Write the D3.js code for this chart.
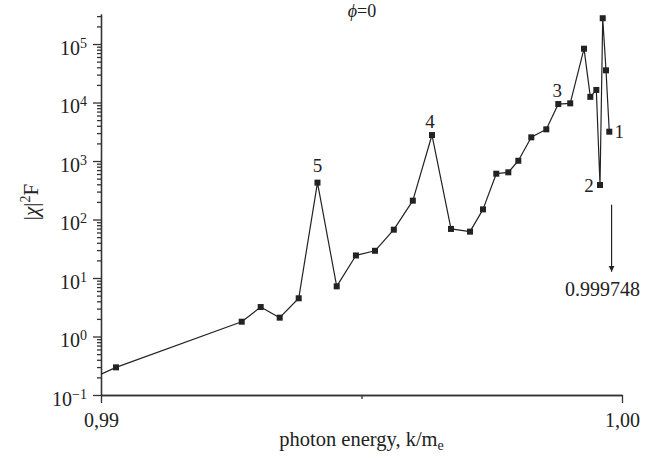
<!DOCTYPE html>
<html>
<head>
<meta charset="utf-8">
<script src="https://cdn.jsdelivr.net/npm/d3@7"></script>
<style>
  body { margin: 0; background: #fff; }
  svg text { font-family: "Liberation Serif", "Times New Roman", "DejaVu Serif", serif; fill: #222; }
</style>
</head>
<body>
<div id="chart"></div>
<script>
var svgWidth = 658;
var svgHeight = 466;

// photon energy k/m_e and |chi|^2 F
var energy = [0.990288, 0.992701, 0.993065, 0.99343, 0.993795, 0.994155, 0.994524, 0.994893,
  0.995259, 0.99562, 0.995985, 0.996353, 0.996718, 0.997083, 0.997332, 0.997587, 0.997818,
  0.998010, 0.998259, 0.998547, 0.998777, 0.999006, 0.999271, 0.999392, 0.999507, 0.999578,
  0.999630, 0.999693, 0.999756];
var chi2F = [0.297, 1.79, 3.19, 2.10, 4.50, 427, 7.2, 24.3, 29.2, 67, 210, 2780, 69, 62, 149,
  607, 641, 1010, 2540, 3480, 9420, 9680, 83200, 12500, 16400, 389, 276000, 35500, 3170];

// the line enters the frame at the left axis at this value
var entryPoint = [0.99, 0.226];

// numbered resonances: label text and index of the point
var peakNames = ["1", "2", "3", "4", "5"];
var peakIndex = [28, 25, 20, 11, 5];

// x and y ticks
var xTicks = [0.99, 1.00];
var xMinorTicks = [0.995];
var yPowers = [-1, 0, 1, 2, 3, 4, 5];

// arrow annotation
var arrowEnergy = 0.9998;
var arrowRange = [179, 12.8];
var arrowText = "0.999748";

var margin = { top: 14, right: 36, bottom: 71, left: 101 };
var width = svgWidth - margin.left - margin.right;
var height = svgHeight - margin.top - margin.bottom;

var svg = d3.select("#chart")
  .append("svg")
  .attr("width", svgWidth)
  .attr("height", svgHeight);

var chartGroup = svg.append("g")
  .attr("transform", `translate(${margin.left}, ${margin.top})`);

var xScale = d3.scaleLinear()
  .domain([0.99, 1.00])
  .range([0, width]);

var yScale = d3.scaleLog()
  .domain([0.1, 3.26e5])
  .range([height, 0]);

svg.append("defs").append("clipPath")
  .attr("id", "plotClip")
  .append("rect")
  .attr("x", 0).attr("y", 0)
  .attr("width", width).attr("height", height);

// minor y ticks 2..9 per decade
var yMinor = [];
for (var p = -1; p <= 5; p++) {
  for (var m = 2; m <= 9; m++) {
    var v = m * Math.pow(10, p);
    if (v <= yScale.domain()[1]) yMinor.push(v);
  }
}

var axisColor = "#333";

var yMinorAxis = chartGroup.append("g")
  .call(d3.axisLeft(yScale).tickValues(yMinor).tickSize(4).tickSizeOuter(0).tickFormat(""));

var yAxis = chartGroup.append("g")
  .call(d3.axisLeft(yScale)
    .tickValues(yPowers.map(d => Math.pow(10, d)))
    .tickSize(8).tickSizeOuter(0).tickPadding(6)
    .tickFormat(""));

// 10^n labels with superscript
yAxis.selectAll(".tick text").each(function(d) {
  var t = d3.select(this)
    .attr("dy", null)
    .attr("y", 10)
    .style("font-size", "20px");
  var pw = Math.round(Math.log10(d));
  t.append("tspan").text("10");
  t.append("tspan")
    .attr("dy", -7)
    .style("font-size", "14px")
    .text(pw < 0 ? "\u2212" + (-pw) : pw);
});

var xMinorAxis = chartGroup.append("g")
  .attr("transform", `translate(0, ${height})`)
  .call(d3.axisBottom(xScale).tickValues(xMinorTicks).tickSize(4).tickSizeOuter(0).tickFormat(""));

var xAxis = chartGroup.append("g")
  .attr("transform", `translate(0, ${height})`)
  .call(d3.axisBottom(xScale)
    .tickValues(xTicks)
    .tickSize(8).tickSizeOuter(0).tickPadding(10)
    .tickFormat(d => d3.format(".2f")(d).replace(".", ",")));

xAxis.selectAll(".tick text").style("font-size", "20px");

[yMinorAxis, yAxis, xMinorAxis, xAxis].forEach(function(g) {
  g.selectAll("path, line").attr("stroke", axisColor).attr("stroke-width", 1.3);
});

// data line
var points = energy.map((e, i) => [e, chi2F[i]]);
var lineData = [entryPoint].concat(points);

var line = d3.line()
  .x(d => xScale(d[0]))
  .y(d => yScale(d[1]));

chartGroup.append("path")
  .datum(lineData)
  .attr("clip-path", "url(#plotClip)")
  .attr("fill", "none")
  .attr("stroke", "#222")
  .attr("stroke-width", 1.2)
  .attr("stroke-linejoin", "round")
  .attr("d", line);

var sq = 6;
chartGroup.selectAll("rect.marker")
  .data(points)
  .enter()
  .append("rect")
  .attr("class", "marker")
  .attr("x", d => xScale(d[0]) - sq / 2)
  .attr("y", d => yScale(d[1]) - sq / 2)
  .attr("width", sq)
  .attr("height", sq)
  .attr("fill", "#222");

// peak numbers
var labelOffset = { "1": [10, 6], "2": [-11, 6.5], "3": [-1, -7.5], "4": [-2, -7], "5": [0, -10.5] };
chartGroup.selectAll("text.peak")
  .data(peakNames)
  .enter()
  .append("text")
  .attr("class", "peak")
  .attr("text-anchor", "middle")
  .style("font-size", "19px")
  .attr("x", (d, i) => xScale(energy[peakIndex[i]]) + labelOffset[d][0])
  .attr("y", (d, i) => yScale(chi2F[peakIndex[i]]) + labelOffset[d][1])
  .text(d => d);

// arrow annotation
svg.append("defs").append("marker")
  .attr("id", "arrowHead")
  .attr("viewBox", "0 0 10 10")
  .attr("refX", 10).attr("refY", 5)
  .attr("markerWidth", 6).attr("markerHeight", 11)
  .attr("markerUnits", "userSpaceOnUse")
  .attr("orient", "auto")
  .append("path")
  .attr("d", "M0,0 L10,5 L0,10 Z")
  .attr("fill", "#222");

chartGroup.append("line")
  .attr("x1", xScale(arrowEnergy))
  .attr("x2", xScale(arrowEnergy))
  .attr("y1", yScale(arrowRange[0]))
  .attr("y2", yScale(arrowRange[1]))
  .attr("stroke", "#222")
  .attr("stroke-width", 1.2)
  .attr("marker-end", "url(#arrowHead)");

chartGroup.append("text")
  .attr("text-anchor", "middle")
  .attr("x", xScale(arrowEnergy) - 9)
  .attr("y", yScale(arrowRange[1]) + 24)
  .style("font-size", "20px")
  .text(arrowText);

// title phi=0
var title = svg.append("text")
  .attr("text-anchor", "middle")
  .attr("x", 362)
  .attr("y", 17)
  .style("font-size", "18px");
title.append("tspan").style("font-style", "italic").text("\u03d5");
title.append("tspan").text("=0");

// x axis title
var xTitle = svg.append("text")
  .attr("text-anchor", "middle")
  .attr("x", margin.left + width / 2)
  .attr("y", 446)
  .style("font-size", "20.5px");
xTitle.append("tspan").text("photon energy, k/m");
xTitle.append("tspan").attr("dy", 4).style("font-size", "14px").text("e");

// y axis title
var yTitle = svg.append("text")
  .attr("text-anchor", "middle")
  .attr("transform", "translate(38, 202) rotate(-90)")
  .style("font-size", "21px");
yTitle.append("tspan").text("|");
yTitle.append("tspan").style("font-style", "italic").text("\u03c7");
yTitle.append("tspan").text("|");
yTitle.append("tspan").attr("dy", -8).style("font-size", "14px").text("2");
yTitle.append("tspan").attr("dy", 8).text("F");
</script>
</body>
</html>
